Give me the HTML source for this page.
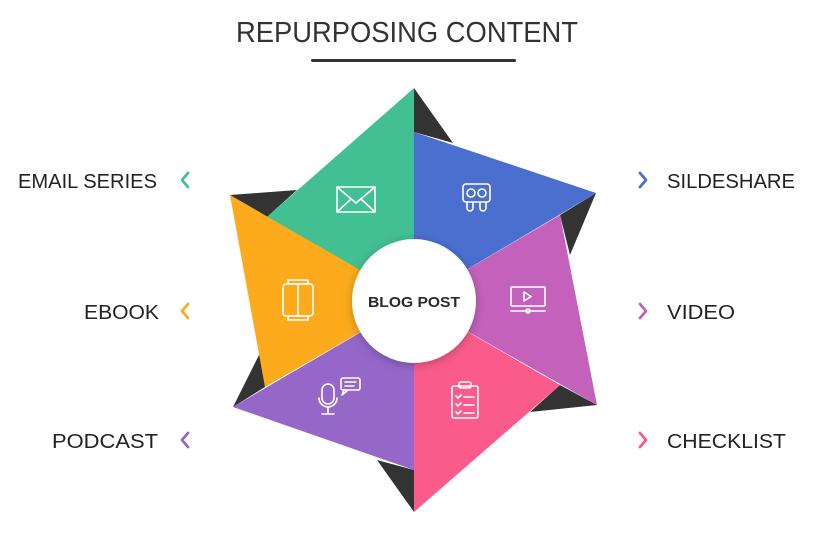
<!DOCTYPE html>
<html><head><meta charset="utf-8"><style>html,body{margin:0;padding:0;background:#fff}svg{display:block}</style></head>
<body>
<svg width="814" height="533" viewBox="0 0 814 533" xmlns="http://www.w3.org/2000/svg" font-family="Liberation Sans, sans-serif">
<defs><filter id="sh" x="-30%" y="-30%" width="160%" height="160%"><feDropShadow dx="0" dy="2" stdDeviation="5" flood-color="#000" flood-opacity="0.25"/></filter></defs>
<text x="236" y="42" font-size="29" fill="#333" textLength="342" lengthAdjust="spacingAndGlyphs">REPURPOSING CONTENT</text>
<rect x="311" y="59" width="205" height="3" rx="1.5" fill="#333"/>
<!-- black shadow pieces -->
<g fill="#333">
<polygon points="414,88 453,143 414,132"/>
<polygon points="596,193 560,215 570,255"/>
<polygon points="597,405 560,385 530,412"/>
<polygon points="414,512 377,460 414,470"/>
<polygon points="233,407 263,347 265,387"/>
<polygon points="230,195 297,190 267,217"/>
</g>
<polygon points="414,88 414,301 267,217" fill="#43bf94"/>
<polygon points="414,132 596,193 414,301" fill="#4a6fcf"/>
<polygon points="560,215 597,405 414,301" fill="#c462bb"/>
<polygon points="560,385 414,512 414,301" fill="#fb5b8b"/>
<polygon points="414,470 233,407 414,301" fill="#9467c9"/>
<polygon points="265,387 230,195 414,301" fill="#fdab1c"/>
<!-- icons -->
<g fill="none" stroke="#fff" stroke-width="1.6" stroke-linejoin="round" stroke-linecap="round">
<rect x="337" y="187" width="38" height="25"/><polyline points="337,187 356,203 375,187"/><line x1="337" y1="212" x2="351" y2="199"/><line x1="375" y1="212" x2="361" y2="199"/>
<rect x="463" y="184" width="27" height="18" rx="3"/><circle cx="471" cy="193" r="4"/><circle cx="482" cy="193" r="4"/><path d="M467 202 v6 a3 3 0 0 0 6 0 v-6 M480 202 v6 a3 3 0 0 0 6 0 v-6"/>
<rect x="511" y="287" width="34" height="19" rx="1"/><polygon points="524,292 531,296.5 524,301"/><line x1="511" y1="311" x2="545" y2="311"/><circle cx="528" cy="311" r="2"/>
<rect x="452" y="386" width="26" height="32" rx="2"/><rect x="459" y="382" width="12" height="6" rx="2"/><path d="M456 396 l2 2 l3-3 M456 404 l2 2 l3-3 M456 412 l2 2 l3-3 M464 397 h10 M464 405 h10 M464 413 h10"/>
<rect x="322" y="384" width="12" height="20" rx="6"/><path d="M319 398 a9 9 0 0 0 18 0 M328 407 v6 M322 414 h12"/><rect x="341" y="378" width="19" height="12" rx="2"/><path d="M344 390 l-2 5 l6-5 M345 382 h11 M345 386 h9"/>
<rect x="283" y="284" width="30" height="32" rx="3"/><line x1="298" y1="284" x2="298" y2="316"/><rect x="288" y="280" width="20" height="4"/><rect x="288" y="316" width="20" height="4"/>
</g>
<circle cx="414" cy="301" r="62" fill="#fff" filter="url(#sh)"/>
<text x="414" y="307" font-size="15" font-weight="bold" fill="#2b2b2b" text-anchor="middle" textLength="92" lengthAdjust="spacingAndGlyphs">BLOG POST</text>
<!-- labels -->
<g font-size="20" fill="#222">
<text x="18" y="188" textLength="139" lengthAdjust="spacingAndGlyphs">EMAIL SERIES</text>
<text x="84" y="319" textLength="75" lengthAdjust="spacingAndGlyphs">EBOOK</text>
<text x="52" y="448" textLength="106" lengthAdjust="spacingAndGlyphs">PODCAST</text>
<text x="667" y="188" textLength="128" lengthAdjust="spacingAndGlyphs">SILDESHARE</text>
<text x="667" y="319" textLength="68" lengthAdjust="spacingAndGlyphs">VIDEO</text>
<text x="667" y="448" textLength="119" lengthAdjust="spacingAndGlyphs">CHECKLIST</text>
</g>
<g fill="none" stroke-width="2.8" stroke-linecap="round" stroke-linejoin="round">
<polyline points="188,173 182,180 188,187" stroke="#43bf94"/>
<polyline points="188,304 182,311 188,318" stroke="#fdab1c"/>
<polyline points="188,433 182,440 188,447" stroke="#9467c9"/>
<polyline points="640,173 646,180 640,187" stroke="#4a6fcf"/>
<polyline points="640,304 646,311 640,318" stroke="#c462bb"/>
<polyline points="640,433 646,440 640,447" stroke="#fb5b8b"/>
</g>
</svg>
</body></html>
